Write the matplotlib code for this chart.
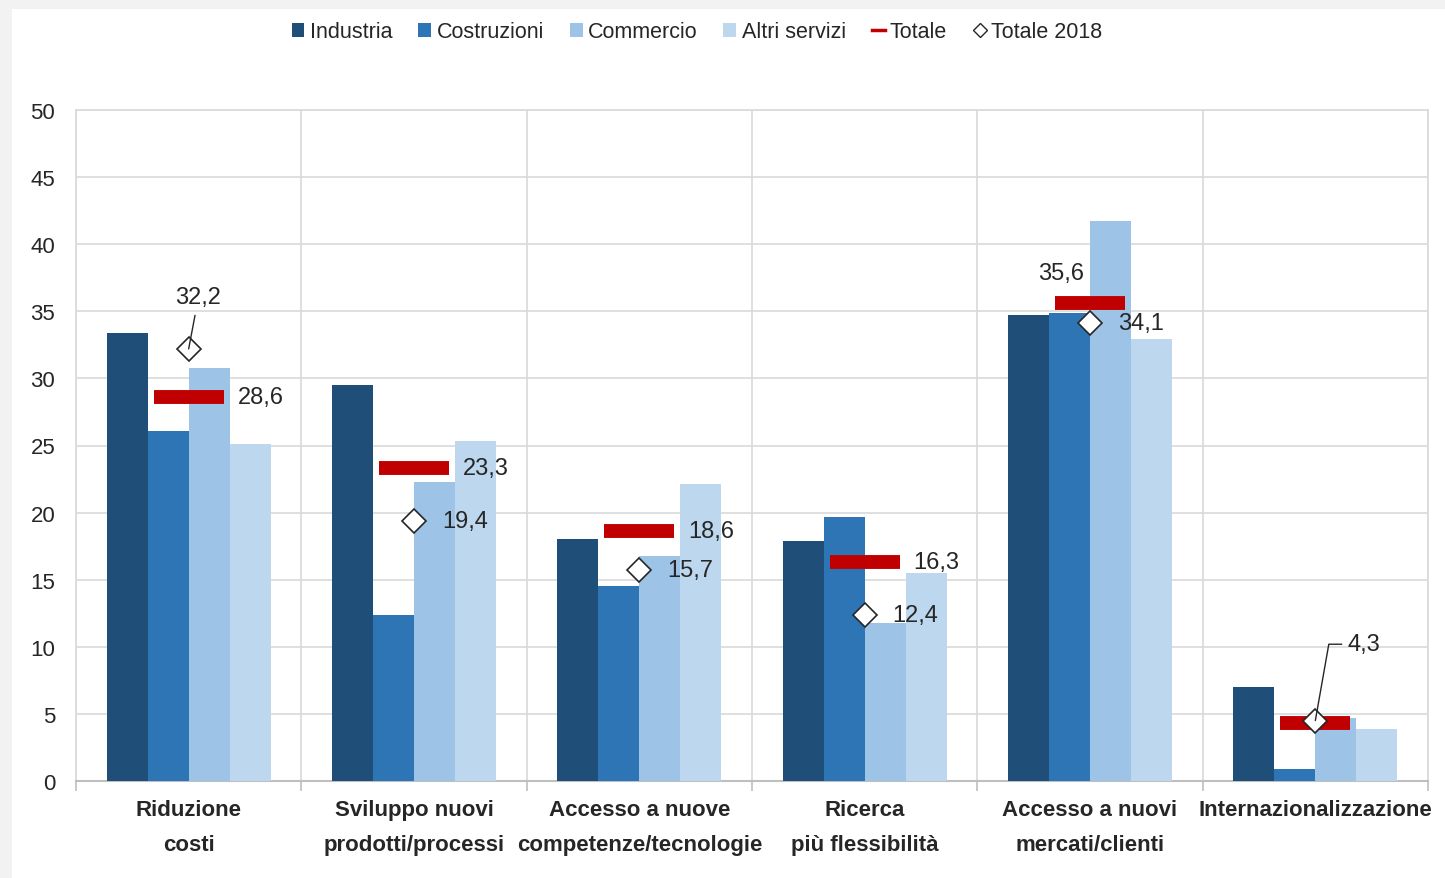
import matplotlib.pyplot as plt
from matplotlib.lines import Line2D
from matplotlib.patches import Patch, Rectangle
import numpy as np

plt.rcParams['font.family'] = ['Liberation Sans', 'DejaVu Sans']

categories = ["Riduzione\ncosti", "Sviluppo nuovi\nprodotti/processi",
              "Accesso a nuove\ncompetenze/tecnologie", "Ricerca\npiù flessibilità",
              "Accesso a nuovi\nmercati/clienti", "Internazionalizzazione"]
series_names = ["Industria", "Costruzioni", "Commercio", "Altri servizi"]
industria = [33.4, 29.5, 18.0, 17.9, 34.7, 7.0]
costruzioni = [26.1, 12.4, 14.5, 19.7, 34.9, 0.9]
commercio = [30.8, 22.3, 16.8, 11.8, 41.7, 4.7]
altri_servizi = [25.1, 25.3, 22.1, 15.5, 32.9, 3.9]
totale = [28.6, 23.3, 18.6, 16.3, 35.6, 4.3]
totale_2018 = [32.2, 19.4, 15.7, 12.4, 34.1, 4.5]
yticks = [0, 5, 10, 15, 20, 25, 30, 35, 40, 45, 50]

colors = ["#1f4e79", "#2e75b6", "#9dc3e6", "#bdd7ee"]
red = "#c00000"
grid = "#d9d9d9"
txt = "#262626"

fig = plt.figure(figsize=(14.45, 8.79), dpi=100, facecolor="#f2f2f2")
fig.patches.append(Rectangle((12 / 1445, 0), 1, 1 - 10 / 879, transform=fig.transFigure,
                             facecolor="white", edgecolor="none", zorder=-10))
ax = fig.add_axes([76 / 1445, 97 / 879, 1352 / 1445, 671 / 879])
ax.set_facecolor("white")

x = np.arange(len(categories))
w = 0.182
all_series = [industria, costruzioni, commercio, altri_servizi]
for i, vals in enumerate(all_series):
    ax.bar(x + (i - 1.5) * w, vals, width=w, color=colors[i], zorder=3)

# totale as short red bars, 2018 as hollow diamonds
half = 0.155
ax.hlines(totale, x - half, x + half, color=red, linewidth=10, zorder=4)
ax.plot(x, totale_2018, linestyle="none", marker="D", markersize=12,
        markerfacecolor="white", markeredgecolor=txt, markeredgewidth=1.2, zorder=5)

fs = 17
fmt = lambda v: ("%.1f" % v).replace(".", ",")
# labels for totale (right of the red bar)
for i in range(4):
    ax.annotate(fmt(totale[i]), (x[i] + half, totale[i]), xytext=(10, 0),
                textcoords="offset points", ha="left", va="center",
                fontsize=fs, color=txt, zorder=6)
ax.annotate(fmt(totale[4]), (x[4], totale[4]), xytext=(-4, 22),
            textcoords="offset points", ha="right", va="center",
            fontsize=fs, color=txt, zorder=6)
# labels for 2018 (right of the diamond)
for i in range(1, 5):
    ax.annotate(fmt(totale_2018[i]), (x[i], totale_2018[i]), xytext=(20, 0),
                textcoords="offset points", ha="left", va="center",
                fontsize=fs, color=txt, zorder=6)
ax.annotate(fmt(totale_2018[0]), (x[0], totale_2018[0]), xytext=(7, 37),
            textcoords="offset points", ha="center", va="center", fontsize=fs, color=txt,
            zorder=6,
            arrowprops=dict(arrowstyle="-", color=txt, lw=1, shrinkA=3, shrinkB=0))
ax.annotate(fmt(totale[5]), (x[5], totale_2018[5]), xytext=(23, 55),
            textcoords="offset points", ha="left", va="center", fontsize=fs, color=txt,
            zorder=6,
            arrowprops=dict(arrowstyle="-", color=txt, lw=1, shrinkA=2, shrinkB=0,
                            connectionstyle="angle,angleA=0,angleB=80,rad=0"))

ax.set_xlim(-0.5, len(categories) - 0.5)
ax.set_ylim(0, 50)
ax.set_yticks(yticks)
ax.set_yticklabels([str(t) for t in yticks], fontsize=16, color=txt)
ax.tick_params(axis="y", length=0, pad=15)
ax.set_xticks(x)
ax.set_xticklabels(categories, fontsize=16, fontweight="bold", color=txt, linespacing=1.9)
ax.tick_params(axis="x", which="major", length=0, pad=13)
ax.set_xticks(np.arange(-0.5, len(categories)), minor=True)
ax.tick_params(axis="x", which="minor", length=7, color="#bfbfbf", width=1.2)
ax.grid(axis="y", color=grid, linewidth=1.2, zorder=0)
ax.grid(axis="x", which="minor", color=grid, linewidth=1.2, zorder=0)
for s in ax.spines.values():
    s.set_color(grid)
    s.set_linewidth(1.2)
ax.spines["bottom"].set_color("#bfbfbf")
ax.spines["bottom"].set_linewidth(1.5)

handles = [Patch(facecolor=c, edgecolor="none") for c in colors]
handles.append(Line2D([], [], color=red, linewidth=2.5))
handles.append(Line2D([], [], linestyle="none", marker="D", markersize=7,
                      markerfacecolor="white", markeredgecolor=txt, markeredgewidth=1))
labels = series_names + ["Totale", "Totale 2018"]
fig.legend(handles, labels, loc="center", bbox_to_anchor=(697 / 1445, 1 - 33 / 879),
           ncol=6, frameon=False, fontsize=15.5, handlelength=0.6, handleheight=0.6,
           handletextpad=0.25, columnspacing=1.2, labelcolor=txt)

fig.savefig("out.png", dpi=100, facecolor=fig.get_facecolor())
